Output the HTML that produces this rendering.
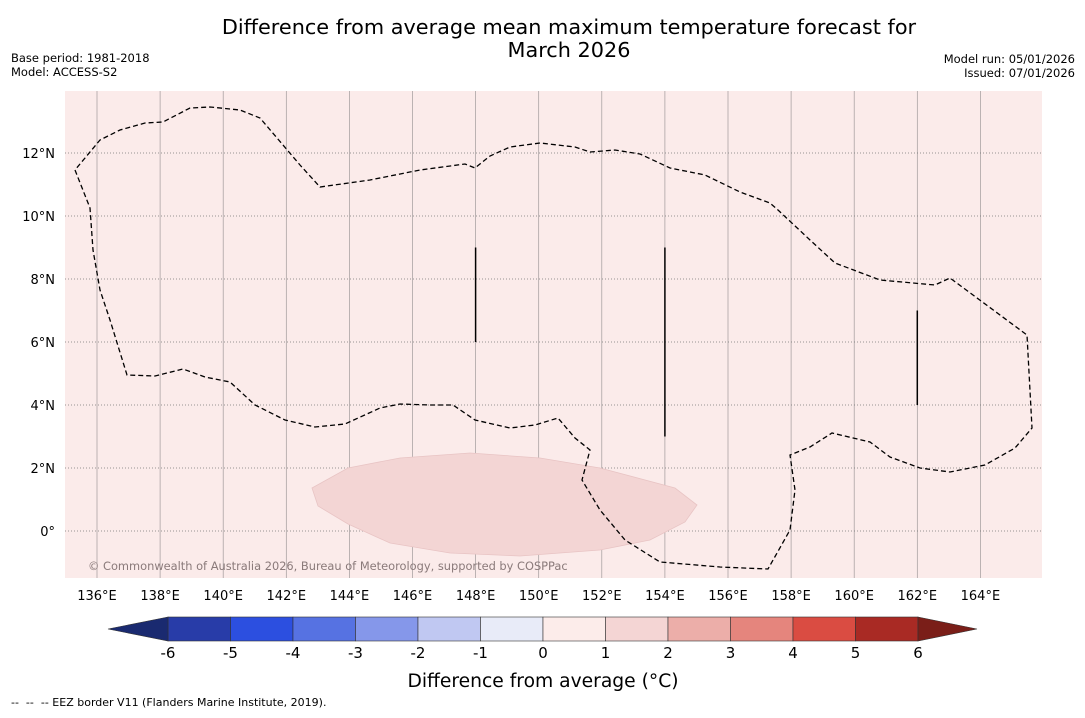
<!DOCTYPE html>
<html><head><meta charset="utf-8"><style>
body{margin:0;background:#fff;font-family:"Liberation Sans","DejaVu Sans",sans-serif;}
svg text{font-family:"DejaVu Sans","Liberation Sans",sans-serif;}
</style></head><body>
<svg id="c" width="1085" height="713" xmlns="http://www.w3.org/2000/svg">
<text x="569" y="34" font-size="20.8" text-anchor="middle">Difference from average mean maximum temperature forecast for</text>
<text x="569" y="57" font-size="20.8" text-anchor="middle">March 2026</text>
<text x="11" y="62" font-size="11.5">Base period: 1981-2018</text>
<text x="11" y="76" font-size="11.5">Model: ACCESS-S2</text>
<text x="1075" y="63" font-size="11.5" text-anchor="end">Model run: 05/01/2026</text>
<text x="1075" y="77" font-size="11.5" text-anchor="end">Issued: 07/01/2026</text>
<rect x="65" y="91" width="977" height="487" fill="#fbebea"/>
<g id="grid"></g>
<g id="marks"></g>
<text x="88" y="570" font-size="11.4" fill="#8a7a7a">© Commonwealth of Australia 2026, Bureau of Meteorology, supported by COSPPac</text>
<g id="cbar"></g>
<text x="543" y="687" font-size="18.7" text-anchor="middle">Difference from average (°C)</text>
<text x="11" y="706" font-size="11">--&#160;&#160;--&#160;&#160;-- EEZ border V11 (Flanders Marine Institute, 2019).</text>
</svg>
<script>
const lonTicks=[136,138,140,142,144,146,148,150,152,154,156,158,160,162,164];
const latTicks=[0,2,4,6,8,10,12];
const cbLevels=[-6,-5,-4,-3,-2,-1,0,1,2,3,4,5,6];
const cbColors=["#283ca8","#2c4fe0","#5672e2","#8597ea","#c0c8f2","#e8ebf8","#fcecea","#f4d5d4","#ecaea9","#e5857d","#da4c42","#a92a24"];
const eezX=[75,90,93,100,110,127,155,183,205,230,255,285,315,345,380,400,430,453,475,510,535,558,575,590,582,600,625,660,720,768,790,795,790,810,832,870,890,920,950,985,1015,1032,1027,1000,950,935,880,835,810,778,770,740,705,670,640,615,590,575,540,510,490,475,465,420,370,320,300,260,240,210,190,163,145,120,100,75];
const eezY=[170,208,250,290,320,375,376,369,377,382,405,420,427,424,408,404,405,405,420,428,425,418,438,450,480,510,540,562,567,569,530,490,455,447,433,442,457,468,472,465,448,428,335,315,278,285,280,263,240,210,203,192,175,168,154,150,152,147,143,147,156,168,164,170,180,187,165,118,110,107,108,122,123,130,140,170];
const blobX=[312,348,400,470,540,600,675,697,685,650,600,520,450,390,348,318];
const blobY=[488,468,458,453,458,468,488,505,522,540,550,556,553,543,524,506];
const segLon=[148,154,162];const segTop=[9,9,7];const segBot=[6,3,4];
const X=l=>97+(l-136)*31.55, Y=a=>531-a*31.5;
const inv=(x,y)=>[136+(x-97)/31.55,(531-y)/31.5];
const NS="http://www.w3.org/2000/svg";
function mk(t,a,p){const e=document.createElementNS(NS,t);for(const k in a)e.setAttribute(k,a[k]);(p||document.getElementById('c')).appendChild(e);return e;}
const g=document.getElementById('grid'),m=document.getElementById('marks'),cb=document.getElementById('cbar');
lonTicks.forEach(l=>{const x=X(l);
 const ln=mk('line',{x1:x,x2:x,y1:91,y2:578,stroke:'#a09a9a','stroke-width':0.7},g);
 
 
 const t=mk('text',{x:x,y:600,'font-size':13,'text-anchor':'middle'},g);t.textContent=l+'°E';
 
 });
latTicks.forEach(a=>{const y=Y(a);
 const ln=mk('line',{x1:65,x2:1042,y1:y,y2:y,stroke:'#777','stroke-width':0.8,'stroke-dasharray':'1,2'},g);
 
 
 const t=mk('text',{x:55,y:y+5,'font-size':13,'text-anchor':'end'},g);t.textContent=(a===0?'0°':a+'°N');
 
 });
function poly(xs,ys){return xs.map((x,i)=>{const p=inv(x,ys[i]);return X(p[0])+','+Y(p[1]);}).join(' ');}
const b=mk('polygon',{points:poly(blobX,blobY),fill:'#f3d5d4',stroke:'#e8c4c4','stroke-width':0.8},m);


const e=mk('polyline',{points:poly(eezX,eezY),fill:'none',stroke:'#000','stroke-width':1.3,'stroke-dasharray':'5,3'},m);


segLon.forEach((l,i)=>{const s=mk('line',{x1:X(l),x2:X(l),y1:Y(segTop[i]),y2:Y(segBot[i]),stroke:'#000','stroke-width':1.5},m);
 
 });
const cx=v=>543+v*62.5;
cbColors.forEach((c,i)=>{const r=mk('rect',{x:cx(cbLevels[i]),y:617,width:62.5,height:24,fill:c,stroke:'#333','stroke-width':0.6},cb);
 
 });
const tl=mk('polygon',{points:`${cx(-6)},617 108,629 ${cx(-6)},641`,fill:'#1a2a70',stroke:'#333','stroke-width':0.6},cb);


const tr=mk('polygon',{points:`${cx(6)},617 977,629 ${cx(6)},641`,fill:'#7a1e18',stroke:'#333','stroke-width':0.6},cb);


cbLevels.forEach(v=>{const t=mk('text',{x:cx(v),y:658,'font-size':15,'text-anchor':'middle'},cb);t.textContent=v;
 
 });
</script>
</body></html>
